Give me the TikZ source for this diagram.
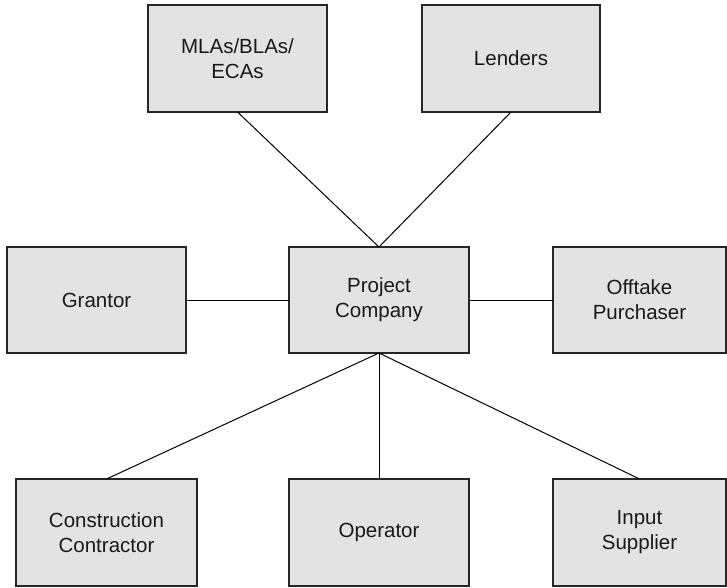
\documentclass[tikz,border=0pt]{standalone}
\usepackage{fontspec}
\setmainfont{Liberation Sans}
\begin{document}
\begin{tikzpicture}[x=1pt,y=1pt,
  party/.style={draw=black!85, line width=1.4pt, fill=boxgray, inner sep=0pt, outer sep=0pt,
    align=center, font=\fontsize{20.5}{25}\selectfont, text=black!90},
  link/.style={draw=black, line width=1pt}]
\definecolor{boxgray}{HTML}{E3E3E3}
\useasboundingbox (0,0) rectangle (727,587);
% top row
\node[party, minimum width=179, minimum height=107] (mla) at (237.5,528.5) {MLAs/BLAs/\\ECAs};
\node[party, minimum width=178, minimum height=107] (lend) at (511,528.5) {Lenders};
% middle row
\node[party, minimum width=179, minimum height=106] (grant) at (96.5,287) {Grantor};
\node[party, minimum width=180, minimum height=106] (pc) at (379,287) {Project\\Company};
\node[party, minimum width=173, minimum height=106] (off) at (639.5,287) {Offtake\\Purchaser};
% bottom row
\node[party, minimum width=181, minimum height=107] (con) at (106.5,54.5) {Construction\\Contractor};
\node[party, minimum width=180, minimum height=107] (op) at (379,54.5) {Operator};
\node[party, minimum width=173, minimum height=107] (inp) at (639.5,54.5) {Input\\Supplier};
% connectors
\draw[link] (mla.south) -- (pc.north);
\draw[link] (lend.south) -- (pc.north);
\draw[link] (grant.east) -- (pc.west);
\draw[link] (pc.east) -- (off.west);
\draw[link] (pc.south) -- (con.north);
\draw[link] (pc.south) -- (op.north);
\draw[link] (pc.south) -- (inp.north);
\end{tikzpicture}
\end{document}
